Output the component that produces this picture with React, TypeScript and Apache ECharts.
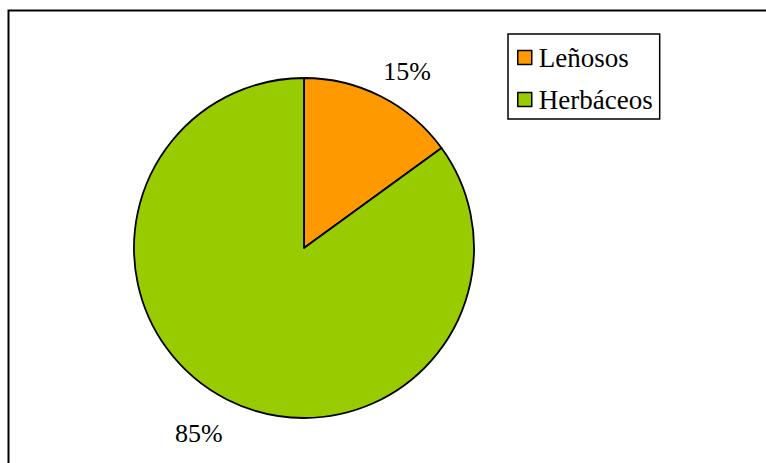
import React, { useEffect, useRef } from "react";
import * as echarts from "echarts";

const categories = ["Leñosos", "Herbáceos"];
const values = [15, 85];
const colors = ["#FF9900", "#99CC00"];
const labelShift = [
  [11, -5],
  [-13, 14],
];

export default function App() {
  const ref = useRef<HTMLDivElement>(null);
  useEffect(() => {
    if (!ref.current) return;
    const chart = echarts.init(ref.current, null, { renderer: "svg" });
    const font = "Liberation Serif";
    chart.setOption({
      animation: false,
      backgroundColor: "#ffffff",
      textStyle: { fontFamily: font },
      graphic: [
        {
          type: "rect",
          shape: { x: 8.5, y: 10.5, width: 900, height: 600 },
          style: { fill: "none", stroke: "#000", lineWidth: 2 },
          silent: true,
          z: -1,
        },
      ],
      legend: {
        orient: "vertical",
        left: 508,
        top: 34,
        padding: [10, 7, 6, 9],
        itemWidth: 14,
        itemHeight: 14,
        itemGap: 15,
        icon: "rect",
        borderColor: "#000",
        borderWidth: 1.5,
        itemStyle: { borderColor: "#000", borderWidth: 1.5 },
        textStyle: {
          fontFamily: font,
          fontSize: 27,
          lineHeight: 27,
          color: "#000",
          padding: [0, 0, 0, 2],
        },
        data: categories,
      },
      series: [
        {
          type: "pie",
          center: [304, 248],
          radius: [0, 170],
          startAngle: 90,
          clockwise: true,
          itemStyle: { borderColor: "#000", borderWidth: 1.8 },
          label: {
            show: true,
            position: "outside",
            formatter: (p: any) => `${p.value}%`,
            fontFamily: font,
            fontSize: 26,
            color: "#000",
          },
          labelLine: { show: false, length: 22, length2: 0 },
          labelLayout: (p: any) => ({
            align: "center",
            dx: labelShift[p.dataIndex][0],
            dy: labelShift[p.dataIndex][1],
          }),
          data: categories.map((name, i) => ({
            name,
            value: values[i],
            itemStyle: { color: colors[i] },
          })),
        },
      ],
    });
    return () => chart.dispose();
  }, []);
  return (
    <div
      ref={ref}
      style={{ position: "fixed", left: 0, top: 0, width: 766, height: 463 }}
    />
  );
}
